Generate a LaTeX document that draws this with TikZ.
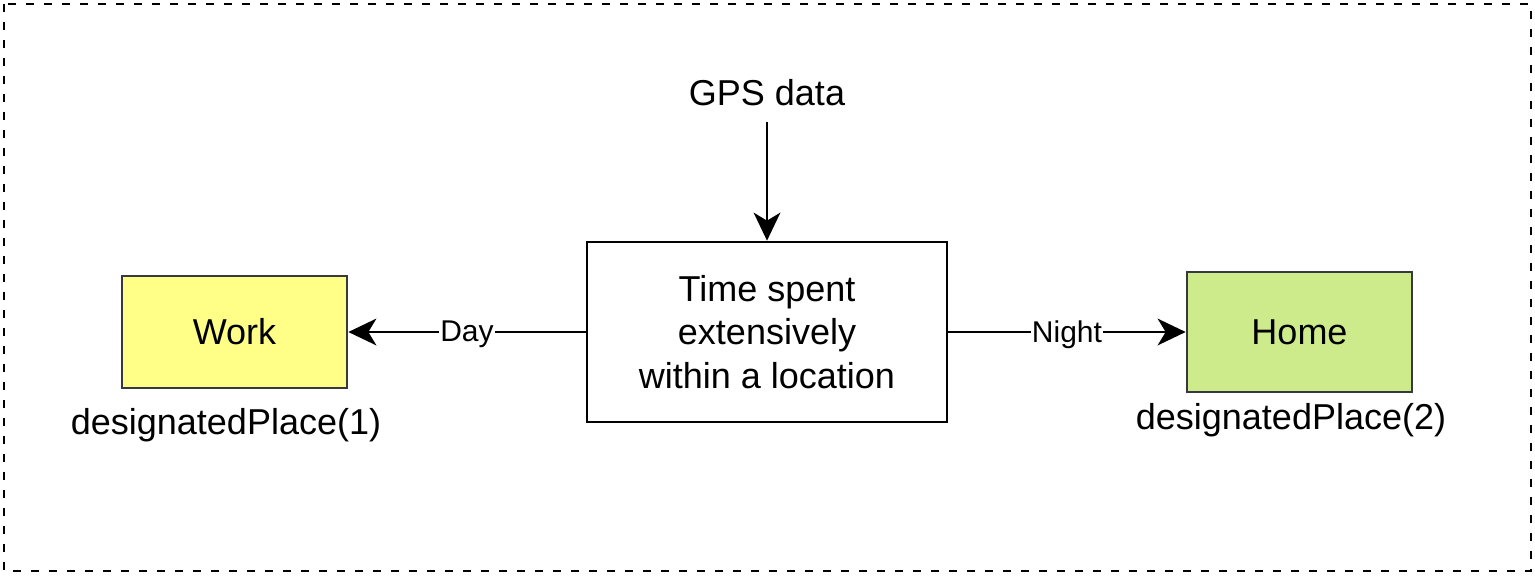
\documentclass[tikz,border=0pt]{standalone}
\usepackage{fontspec}
\setmainfont{Liberation Sans}
\usetikzlibrary{arrows.meta}
\definecolor{workfill}{HTML}{FFFF88}
\definecolor{homefill}{HTML}{CDEB8B}
\definecolor{boxline}{HTML}{36393D}
\tikzset{
  txt/.style={font=\fontsize{27}{32.5}\selectfont, align=center, inner sep=0pt},
  placebox/.style={draw=boxline, line width=2pt, minimum width=168.75pt, txt},
  mainbox/.style={draw=black, fill=white, line width=2pt, minimum width=270pt, minimum height=135pt, txt},
  arr/.style={line width=2pt, -{Stealth[length=21pt, width=20pt, inset=6pt]}},
  lbl/.style={fill=white, font=\fontsize{22.5}{26}\selectfont, inner sep=1pt, yshift=-2pt},
}
\begin{document}
\begin{tikzpicture}[x=0.75pt, y=-0.75pt]
\useasboundingbox (0,0) rectangle (1535,575);
\draw[line width=1.7pt, dash pattern=on 6pt off 7.5pt] (4,4) rectangle (1531,571);
\node[placebox, fill=workfill, minimum height=84pt] (work) at (234.5,332) {Work};
\node[mainbox] (ctr) at (767,332) {Time spent\\extensively\\within a location};
\node[placebox, fill=homefill, minimum height=90pt] (home) at (1299.5,332) {Home};
\node[txt] (gps) at (767,93) {GPS data};
\coordinate (gpsout) at (767,122);
\node[txt] (dp1) at (226,425) {designatedPlace(1)};
\node[txt] (dp2) at (1291,420) {designatedPlace(2)};
\draw[arr] (gpsout) -- (ctr.north);
\draw[arr] (ctr.west) -- node[lbl, pos=0.5] {Day} (work.east);
\draw[arr] (ctr.east) -- node[lbl, pos=0.5] {Night} (home.west);
\end{tikzpicture}
\end{document}
